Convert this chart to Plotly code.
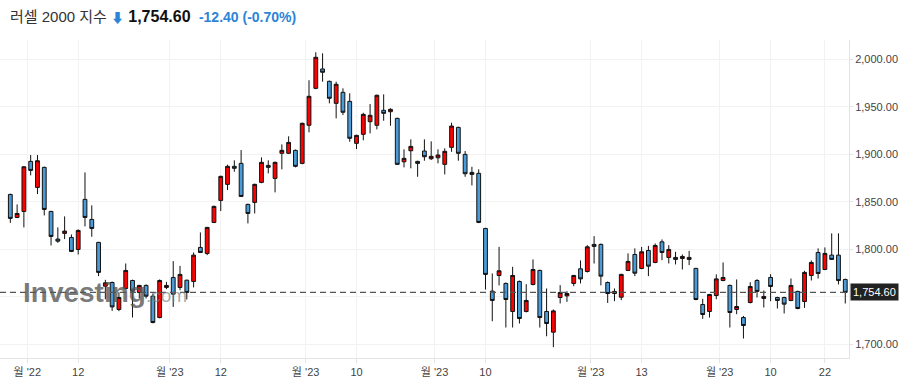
import pandas as pd
import plotly.graph_objects as go

# ---- data -------------------------------------------------------------
holidays = ["2022-12-26", "2023-01-02", "2023-01-16", "2023-02-20", "2023-04-07"]
dates = pd.bdate_range("2022-11-28", "2023-05-25", freq="C", holidays=holidays)

opens = [1857.7, 1833.5, 1839.8, 1892.5, 1865.1, 1886.2, 1839.8, 1810.7, 1816.7, 1812.4,
         1799.8, 1852.5, 1831.4, 1807.2, 1761.1, 1765.0, 1736.6, 1758.7, 1767.1, 1754.5,
         1761.9, 1750.6, 1728.1, 1759.8, 1770.3, 1759.8, 1767.4, 1766.1, 1801.9, 1795.6,
         1828.2, 1851.4, 1868.3, 1887.3, 1890.4, 1847.2, 1849.3, 1870.4, 1888.3, 1874.6,
         1901.0, 1901.0, 1904.1, 1890.4, 1930.5, 1969.4, 1989.8, 1976.8, 1953.6, 1965.2,
         1955.7, 1911.5, 1921.0, 1934.3, 1930.5, 1946.3, 1944.8, 1937.8, 1892.1, 1903.7,
         1892.5, 1903.4, 1895.3, 1896.3, 1889.4, 1907.3, 1928.3, 1899.9, 1880.9, 1879.9,
         1821.9, 1755.9, 1772.4, 1764.0, 1734.5, 1766.1, 1734.5, 1762.9, 1777.7, 1734.5,
         1712.7, 1749.2, 1750.9, 1764.0, 1779.4, 1776.6, 1805.1, 1805.1, 1765.0, 1753.4,
         1749.5, 1777.7, 1794.5, 1779.8, 1798.7, 1786.1, 1807.8, 1791.4, 1791.4, 1790.3,
         1791.4, 1779.8, 1741.8, 1734.5, 1751.3, 1767.1, 1761.9, 1736.6, 1728.1, 1743.9,
         1767.1, 1748.2, 1770.3, 1749.2, 1749.2, 1746.1, 1755.6, 1745.0, 1772.4, 1796.6,
         1778.7, 1793.8, 1793.8, 1768.2]
highs = [1858.5, 1847.2, 1887.5, 1899.2, 1899.2, 1887.0, 1840.5, 1823.0, 1834.6, 1815.6,
         1820.9, 1880.9, 1846.2, 1807.8, 1767.8, 1766.0, 1754.8, 1785.0, 1768.0, 1762.5,
         1763.0, 1753.4, 1768.2, 1765.7, 1787.5, 1782.5, 1768.0, 1796.6, 1817.7, 1823.5,
         1846.0, 1877.5, 1889.0, 1893.6, 1904.4, 1848.0, 1869.0, 1896.7, 1893.6, 1892.3,
         1910.4, 1918.9, 1905.0, 1933.3, 1977.9, 2007.4, 2006.3, 1977.5, 1976.4, 1969.4,
         1964.2, 1920.5, 1943.7, 1952.9, 1962.8, 1963.1, 1948.4, 1938.5, 1905.2, 1915.7,
         1893.2, 1915.7, 1913.6, 1905.2, 1906.2, 1933.2, 1929.0, 1903.4, 1886.8, 1884.1,
         1822.5, 1774.5, 1802.5, 1765.0, 1781.5, 1767.0, 1763.2, 1789.3, 1778.5, 1758.7,
         1736.6, 1762.2, 1755.9, 1773.0, 1788.2, 1804.3, 1813.8, 1806.0, 1766.0, 1758.7,
         1774.2, 1795.6, 1800.9, 1802.5, 1803.6, 1806.1, 1810.3, 1804.3, 1797.3, 1794.5,
         1798.3, 1780.5, 1747.8, 1753.0, 1773.5, 1786.1, 1762.8, 1768.2, 1729.8, 1765.3,
         1768.5, 1756.6, 1773.8, 1750.0, 1750.0, 1769.2, 1756.3, 1777.3, 1788.2, 1800.9,
         1801.9, 1816.7, 1816.7, 1769.0]
lows = [1827.8, 1832.8, 1823.0, 1877.8, 1858.1, 1835.6, 1804.0, 1806.8, 1810.7, 1797.0,
        1794.5, 1824.0, 1813.1, 1771.7, 1747.4, 1735.1, 1734.8, 1757.5, 1728.1, 1748.5,
        1748.2, 1722.0, 1727.3, 1758.0, 1739.3, 1756.9, 1747.1, 1759.8, 1796.0, 1793.8,
        1827.5, 1840.2, 1862.3, 1881.6, 1855.0, 1827.2, 1837.7, 1869.5, 1879.9, 1859.9,
        1884.1, 1900.3, 1886.2, 1889.5, 1923.1, 1968.5, 1976.4, 1953.6, 1937.8, 1941.3,
        1913.2, 1905.5, 1914.7, 1922.0, 1926.2, 1935.3, 1930.0, 1888.6, 1886.2, 1885.2,
        1876.3, 1893.2, 1893.9, 1890.4, 1878.8, 1902.6, 1893.2, 1876.3, 1867.2, 1827.5,
        1757.6, 1724.2, 1761.9, 1717.6, 1717.6, 1721.8, 1733.5, 1762.0, 1717.6, 1708.4,
        1696.9, 1742.9, 1744.6, 1761.1, 1764.0, 1775.5, 1785.0, 1761.9, 1743.5, 1745.3,
        1746.4, 1777.0, 1771.7, 1779.0, 1771.7, 1785.3, 1788.5, 1785.0, 1784.0, 1778.7,
        1783.3, 1746.3, 1726.7, 1728.1, 1747.4, 1766.3, 1717.6, 1731.6, 1706.0, 1743.0,
        1749.2, 1738.7, 1745.3, 1737.6, 1732.4, 1745.3, 1736.8, 1738.3, 1767.1, 1769.2,
        1778.0, 1789.0, 1762.9, 1742.9]
closes = [1832.5, 1837.7, 1886.8, 1883.0, 1893.2, 1841.9, 1813.5, 1808.5, 1819.1, 1797.7,
          1819.8, 1833.5, 1821.9, 1775.6, 1764.6, 1739.3, 1749.2, 1777.7, 1755.9, 1761.9,
          1750.6, 1722.9, 1767.1, 1761.9, 1752.7, 1773.5, 1754.5, 1793.8, 1796.6, 1823.0,
          1845.1, 1876.7, 1887.3, 1885.2, 1855.6, 1837.7, 1868.3, 1891.5, 1886.2, 1891.5,
          1904.1, 1912.5, 1887.3, 1932.6, 1961.0, 2002.1, 1986.3, 1958.9, 1973.7, 1944.2,
          1916.8, 1919.9, 1942.0, 1941.0, 1962.1, 1943.1, 1947.3, 1889.4, 1895.7, 1908.3,
          1890.4, 1897.4, 1897.8, 1899.2, 1903.1, 1929.7, 1901.0, 1879.5, 1878.8, 1828.2,
          1773.5, 1746.1, 1777.3, 1747.1, 1772.4, 1727.1, 1746.1, 1778.7, 1728.1, 1721.8,
          1735.1, 1754.5, 1753.4, 1772.4, 1768.8, 1802.5, 1803.0, 1771.7, 1753.4, 1755.6,
          1773.5, 1787.2, 1774.8, 1797.3, 1782.2, 1804.0, 1796.6, 1799.8, 1789.3, 1792.4,
          1789.3, 1747.1, 1731.3, 1752.4, 1768.8, 1770.3, 1733.4, 1739.7, 1719.7, 1760.8,
          1755.6, 1750.3, 1760.8, 1746.1, 1742.2, 1761.9, 1737.6, 1775.6, 1786.1, 1774.5,
          1795.6, 1789.3, 1767.0, 1754.6]

tick_dates = ["2022-12-01", "2022-12-12", "2023-01-03", "2023-01-12", "2023-02-01",
              "2023-02-10", "2023-03-01", "2023-03-10", "2023-04-03", "2023-04-13",
              "2023-05-01", "2023-05-10", "2023-05-22"]
tick_texts = ["월 '22", "12", "월 '23", "12", "월 '23", "10", "월 '23", "10",
              "월 '23", "13", "월 '23", "10", "22"]
month_start = [True, False, True, False, True, False, True, False, True, False, True, False, False]

y_ticks = [1700, 1750, 1800, 1850, 1900, 1950, 2000]
y_tick_texts = ["1,700.00", "", "1,800.00", "1,850.00", "1,900.00", "1,950.00", "2,000.00"]
last_price = 1754.60
title_name = "러셀 2000 지수"
title_price = "1,754.60"
title_change = "-12.40 (-0.70%)"

# ---- figure -----------------------------------------------------------
idx = list(range(len(dates)))
date_pos = {d.strftime("%Y-%m-%d"): i for i, d in enumerate(dates)}
tickvals = [date_pos[d] - (0.5 if m else 0) for d, m in zip(tick_dates, month_start)]

FONT = "Liberation Sans, Arial, Noto Sans CJK KR, sans-serif"

fig = go.Figure()
fig.add_trace(go.Candlestick(
    x=idx, open=opens, high=highs, low=lows, close=closes,
    increasing=dict(fillcolor="#ff0000", line=dict(color="#111111", width=1)),
    decreasing=dict(fillcolor="#4a9bd8", line=dict(color="#111111", width=1)),
    whiskerwidth=0, hoverinfo="skip", showlegend=False,
))

fig.update_layout(
    width=911, height=390,
    margin=dict(l=0, r=62, t=40, b=32),
    paper_bgcolor="white", plot_bgcolor="white",
    font=dict(family=FONT, size=11, color="#333333"),
    showlegend=False,
    boxgap=0.2,
    xaxis=dict(
        range=[-1.52, 123.55], rangeslider=dict(visible=False),
        tickmode="array", tickvals=tickvals, ticktext=tick_texts,
        showgrid=True, gridcolor="#f2f2f2", gridwidth=1,
        showline=True, linecolor="#e3e3e3", linewidth=1,
        ticks="outside", ticklen=4, tickcolor="#e3e3e3",
        tickfont=dict(family=FONT, size=11, color="#444444"),
        zeroline=False, fixedrange=True,
    ),
    yaxis=dict(
        side="right", range=[1685.5, 2020.3],
        tickmode="array", tickvals=y_ticks, ticktext=y_tick_texts,
        showgrid=True, gridcolor="#f2f2f2", gridwidth=1,
        showline=True, linecolor="#e3e3e3", linewidth=1,
        ticks="outside", ticklen=3, tickcolor="#e3e3e3",
        tickfont=dict(family=FONT, size=11, color="#444444"),
        zeroline=False, fixedrange=True,
    ),
)

# dashed last-price line
fig.add_shape(type="line", xref="paper", x0=0, x1=1, yref="y", y0=last_price, y1=last_price,
              line=dict(color="#555555", width=1.2, dash="6px,4px"), layer="above")

# last-price label
fig.add_annotation(xref="paper", x=1, yref="y", y=last_price, xanchor="left", yanchor="middle",
                   xshift=1, text=f"{last_price:,.2f}", showarrow=False,
                   bgcolor="#222222", borderpad=2,
                   font=dict(family=FONT, size=11, color="white"))

# watermark
fig.add_annotation(xref="paper", x=21 / 849, yref="paper", y=0.205, xanchor="left", yanchor="middle",
                   showarrow=False,
                   text=("<b>Investing</b><span style='font-size:19px;"
                         "color:rgba(125,125,125,0.85)'>.com</span>"),
                   font=dict(family="Liberation Sans, Arial, sans-serif", size=28,
                             color="rgba(85,85,85,0.78)"))

# title
fig.add_annotation(xref="paper", x=0, yref="paper", y=1 + 24 / 318, xanchor="left", yanchor="middle",
                   xshift=8, showarrow=False,
                   text=(f"<span style='color:#333333'>{title_name}</span> "
                         f"<span style='color:#2d84d6;font-size:13px'>⬇</span> "
                         f"<b style='font-size:16px'>{title_price}</b>  "
                         f"<span style='color:#2d84d6;font-size:14px'><b>{title_change}</b></span>"),
                   font=dict(family="Liberation Sans, Arial, Noto Sans CJK KR, sans-serif",
                             size=15, color="#111111"))

fig.write_html("out.html", config={"displayModeBar": False, "staticPlot": True},
               post_script="document.body.style.margin='0px';")
